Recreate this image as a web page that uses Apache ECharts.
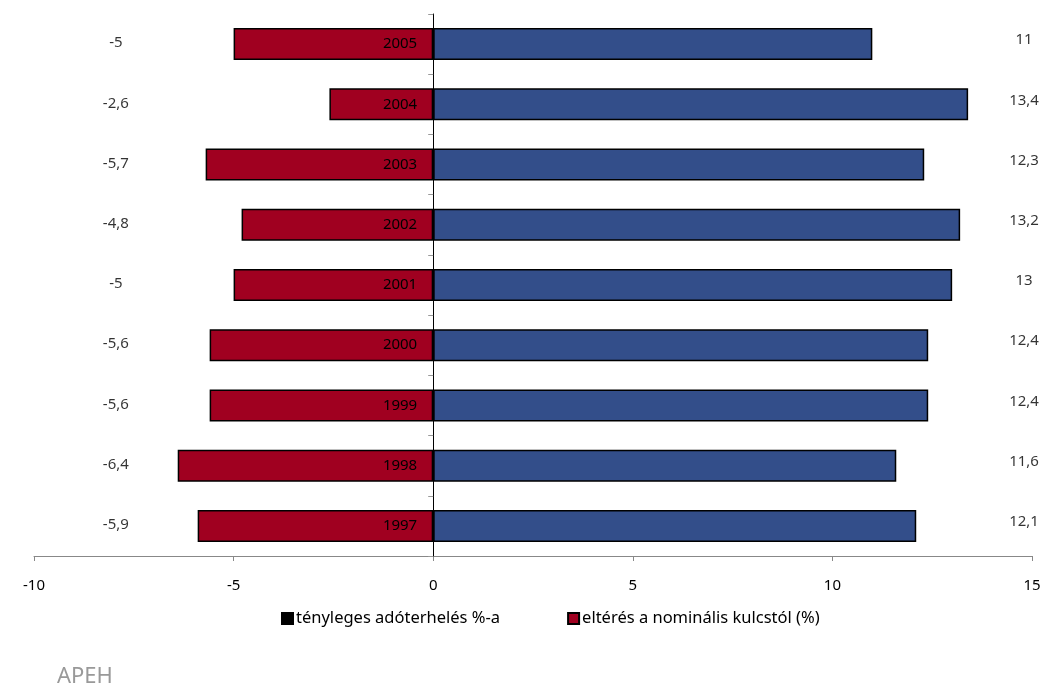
<!DOCTYPE html>
<html><head><meta charset="utf-8">
<script src="https://cdn.jsdelivr.net/npm/echarts@6/dist/echarts.min.js"></script>
<style>html,body{margin:0;padding:0;background:#fff}#c{width:1041px;height:686px}</style>
</head><body><div id="c"></div>
<script>
const years = ['1997','1998','1999','2000','2001','2002','2003','2004','2005'];
const effective = [12.1, 11.6, 12.4, 12.4, 13, 13.2, 12.3, 13.4, 11];
const deviation = [-5.9, -6.4, -5.6, -5.6, -5, -4.8, -5.7, -2.6, -5];
const xTicks = [-10, -5, 0, 5, 10, 15];
const seriesNames = ['tényleges adóterhelés %-a', 'eltérés a nominális kulcstól (%)'];

const FONT = '"Noto Sans", "Open Sans", sans-serif';
const LEFT_LABEL_X = -7.95, RIGHT_LABEL_X = 14.8;
const fmt = v => String(v).replace('.', ',');

const chart = echarts.init(document.getElementById('c'));
chart.setOption({
  animation: false,
  textStyle: { fontFamily: FONT },
  grid: { left: 34, right: 9, top: 14, bottom: 130, containLabel: false, outerBoundsMode: 'none' },
  xAxis: {
    type: 'value', min: xTicks[0], max: xTicks[xTicks.length - 1], interval: 5,
    splitLine: { show: false },
    axisLine: { show: true, lineStyle: { color: '#888', width: 1 } },
    axisTick: { show: true, length: 5, lineStyle: { color: '#888' } },
    axisLabel: { color: '#000', fontSize: 15, margin: 22, fontFamily: FONT }
  },
  yAxis: {
    type: 'category', data: years, z: 5,
    axisLine: { show: true, onZero: true, lineStyle: { color: '#000', width: 1 } },
    axisTick: { show: true, length: 5, lineStyle: { color: '#999' } },
    axisLabel: { show: false }
  },
  legend: {
    left: 276, top: 605, itemWidth: 11, itemHeight: 11, itemGap: 67, icon: 'rect',
    textStyle: { fontSize: 16.5, color: '#000', fontFamily: FONT, padding: [0, 0, 0, -2] },
    data: [
      { name: seriesNames[0], itemStyle: { color: '#000', borderColor: '#000' } },
      { name: seriesNames[1] }
    ]
  },
  graphic: [{
    type: 'text', left: 57, top: 666,
    style: { text: 'APEH', fill: '#999', fontSize: 22, fontFamily: FONT }
  }],
  series: [
    {
      name: seriesNames[0], type: 'bar', stack: 'a', data: effective, barWidth: 32,
      itemStyle: { color: '#334E8A', borderColor: '#000', borderWidth: 1.5 }
    },
    {
      name: seriesNames[1], type: 'bar', stack: 'a', data: deviation, barWidth: 32,
      itemStyle: { color: '#A00020', borderColor: '#000', borderWidth: 1.5 },
      label: { show: true, position: 'insideRight', distance: 16, color: '#000', fontSize: 15,
        fontFamily: FONT, formatter: p => p.name }
    },
    {
      type: 'scatter', symbolSize: 1, silent: true,
      itemStyle: { color: 'transparent' },
      data: deviation.map((v, i) => ({ value: [LEFT_LABEL_X, i], raw: v })),
      label: { show: true, position: 'inside', offset: [0, -1], color: '#000', fontSize: 15, fontFamily: FONT,
        formatter: p => fmt(p.data.raw) }
    },
    {
      type: 'scatter', symbolSize: 1, silent: true,
      itemStyle: { color: 'transparent' },
      data: effective.map((v, i) => ({ value: [RIGHT_LABEL_X, i], raw: v })),
      label: { show: true, position: 'inside', offset: [0, -4], color: '#000', fontSize: 15, fontFamily: FONT,
        formatter: p => fmt(p.data.raw) }
    }
  ]
});
</script></body></html>
